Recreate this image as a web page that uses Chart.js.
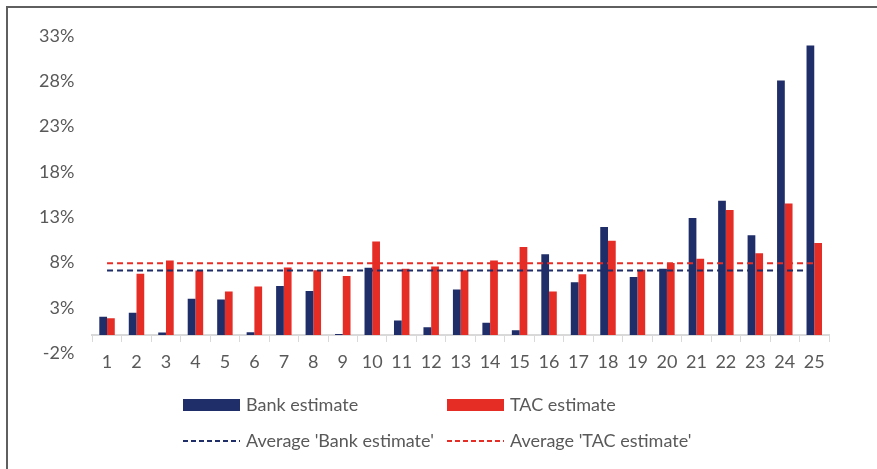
<!DOCTYPE html>
<html>
<head>
<meta charset="utf-8">
<script src="https://cdn.jsdelivr.net/npm/chart.js@4.4.1/dist/chart.umd.min.js"></script>
<style>
  html, body { margin: 0; padding: 0; background: #fff; }
  #wrap { position: relative; width: 877px; height: 469px; }
</style>
</head>
<body>
<div id="wrap"><canvas id="estChart" width="877" height="469"></canvas></div>
<script>
const categories = ['1','2','3','4','5','6','7','8','9','10','11','12','13','14','15','16','17','18','19','20','21','22','23','24','25'];
const bankEstimate = [2.0, 2.45, 0.25, 4.0, 3.9, 0.3, 5.4, 4.85, 0.1, 7.4, 1.6, 0.85, 5.0, 1.35, 0.5, 8.9, 5.8, 11.9, 6.4, 7.3, 12.9, 14.8, 11.0, 28.1, 31.95];
const tacEstimate = [1.85, 6.75, 8.2, 7.1, 4.8, 5.35, 7.45, 7.15, 6.5, 10.3, 7.3, 7.55, 7.15, 8.2, 9.7, 4.8, 6.7, 10.4, 7.2, 7.95, 8.4, 13.8, 9.0, 14.5, 10.15];
const avgBank = 7.1;
const avgTac = 7.9;
const yTicks = [-2, 3, 8, 13, 18, 23, 28, 33];

const BLUE = '#1f2d69';
const RED = '#e52d26';
const TEXT = '#595959';
const FONT = 'Lato, "Open Sans", sans-serif';

// frame lines on the left and top edges
const framePlugin = {
    id: 'frame',
    beforeDraw(chart) {
        const ctx = chart.ctx;
        ctx.save();
        ctx.strokeStyle = '#5f5f5f';
        ctx.lineWidth = 2;
        ctx.beginPath();
        ctx.moveTo(7, chart.height);
        ctx.lineTo(7, 7);
        ctx.lineTo(chart.width, 7);
        ctx.stroke();
        ctx.restore();
    }
};

// two-column legend under the plot
const gridLegend = {
    id: 'gridLegend',
    afterDraw(chart) {
        const ctx = chart.ctx;
        const cols = [183, 447];
        const rows = [405, 441];
        const sets = chart.data.datasets;
        ctx.save();
        ctx.font = '18px ' + FONT;
        ctx.textBaseline = 'middle';
        sets.forEach((ds, i) => {
            const x = cols[i % 2];
            const y = rows[Math.floor(i / 2)];
            if (ds.type === 'line') {
                ctx.strokeStyle = ds.borderColor;
                ctx.lineWidth = 2;
                ctx.setLineDash([5, 3]);
                ctx.beginPath();
                ctx.moveTo(x, y);
                ctx.lineTo(x + 57, y);
                ctx.stroke();
                ctx.setLineDash([]);
            } else {
                ctx.fillStyle = ds.backgroundColor;
                ctx.fillRect(x, y - 6, 57, 12);
            }
            ctx.fillStyle = TEXT;
            ctx.fillText(ds.label, x + 63, y);
        });
        ctx.restore();
    }
};

new Chart('estChart', {
    data: {
        labels: categories,
        datasets: [
            {
                type: 'bar',
                label: 'Bank estimate',
                data: bankEstimate,
                backgroundColor: BLUE,
                order: 1,
                categoryPercentage: 0.525,
                barPercentage: 1
            },
            {
                type: 'bar',
                label: 'TAC estimate',
                data: tacEstimate,
                backgroundColor: RED,
                order: 1,
                categoryPercentage: 0.525,
                barPercentage: 1
            },
            {
                type: 'line',
                label: "Average 'Bank estimate'",
                data: [{ x: categories[0], y: avgBank }, { x: categories[categories.length - 1], y: avgBank }],
                borderColor: BLUE,
                borderWidth: 2,
                borderDash: [6, 4],
                pointRadius: 0,
                fill: false,
                order: 0
            },
            {
                type: 'line',
                label: "Average 'TAC estimate'",
                data: [{ x: categories[0], y: avgTac }, { x: categories[categories.length - 1], y: avgTac }],
                borderColor: RED,
                borderWidth: 2,
                borderDash: [6, 4],
                pointRadius: 0,
                fill: false,
                order: 0
            }
        ]
    },
    options: {
        responsive: false,
        animation: false,
        layout: { padding: { left: 21, right: 48, top: 36, bottom: 116 } },
        plugins: {
            legend: { display: false },
            tooltip: { enabled: false }
        },
        scales: {
            x: {
                position: { y: 0 },
                offset: true,
                grid: {
                    display: true,
                    drawOnChartArea: false,
                    offset: true,
                    tickLength: 6,
                    color: '#d9d9d9'
                },
                border: { display: true, color: '#d9d9d9', width: 2 },
                ticks: {
                    color: TEXT,
                    font: { family: FONT, size: 18 },
                    padding: 11,
                    maxRotation: 0,
                    autoSkip: false
                }
            },
            y: {
                min: yTicks[0],
                max: yTicks[yTicks.length - 1],
                afterBuildTicks(scale) {
                    scale.ticks = yTicks.map(v => ({ value: v }));
                },
                grid: { display: false, drawTicks: false },
                border: { display: false },
                ticks: {
                    color: TEXT,
                    font: { family: FONT, size: 18 },
                    padding: 18,
                    callback: v => v + '%'
                }
            }
        }
    },
    plugins: [framePlugin, gridLegend]
});
</script>
</body>
</html>
